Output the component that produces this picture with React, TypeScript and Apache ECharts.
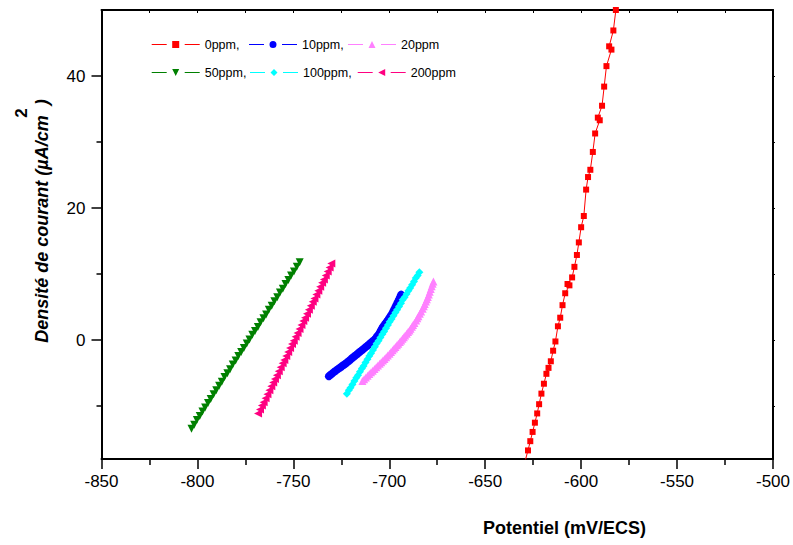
import React, { useEffect, useRef } from "react";
import * as echarts from "echarts";

const FONT = 'Arial, "Liberation Sans", sans-serif';

// Tick values
const xTickValues = [-850, -800, -750, -700, -650, -600, -550, -500];
const yMajorTicks = [0, 20, 40];
const yMinorTicks = [-10, 10, 30];
const yRightTicks = [-10, 0, 10, 20, 30, 40];

const seriesNames = ["0ppm", "10ppm", "20ppm", "50ppm", "100ppm", "200ppm"];
const seriesColors = ["#FF0000", "#0000FF", "#FF80FF", "#008000", "#00FFFF", "#FF0080"];

// 0 ppm
const pot0 = [-581.9, -583.2, -585.4, -584.2, -586.8, -588.0, -589.1, -591.3, -590.3, -592.7, -593.9, -595.2, -596.4, -597.4, -598.6, -600.0, -601.2, -602.2, -603.5, -604.7, -607.1, -606.1, -608.3, -609.7, -610.9, -612.1, -613.4, -614.6, -615.8, -617.0, -618.1, -619.4, -620.7, -621.9, -622.9, -624.1, -625.3, -626.5, -627.7, -629.0];
const cur0 = [50.0, 46.9, 44.5, 44.0, 41.5, 38.4, 35.5, 33.7, 33.3, 31.3, 28.5, 25.8, 24.7, 22.8, 18.8, 17.1, 14.8, 12.9, 11.1, 9.5, 8.5, 8.3, 7.1, 5.3, 3.4, 2.1, -0.2, -1.6, -3.2, -4.2, -5.1, -6.6, -8.1, -9.7, -11.1, -12.5, -13.9, -15.3, -16.7, -18.1];

// 10 ppm
const pot10 = [-731.5, -730.6, -729.6, -728.5, -727.5, -726.6, -725.6, -724.7, -723.8, -722.9, -721.9, -720.9, -719.9, -719.0, -718.0, -717.1, -716.2, -715.3, -714.4, -713.4, -712.4, -711.4, -710.5, -709.6, -708.7, -707.7, -707.0, -706.4, -705.7, -705.1, -704.5, -703.9, -703.4, -702.7, -702.1, -701.4, -700.8, -700.2, -699.6, -699.1, -698.5, -698.0, -697.5, -696.9, -696.4, -695.8, -695.2, -694.7, -694.2, -693.8];
const cur10 = [-5.46, -5.25, -5.02, -4.75, -4.54, -4.35, -4.14, -3.94, -3.76, -3.57, -3.34, -3.11, -2.85, -2.64, -2.40, -2.19, -1.98, -1.77, -1.55, -1.32, -1.08, -0.85, -0.62, -0.40, -0.17, 0.06, 0.30, 0.55, 0.80, 1.06, 1.38, 1.70, 1.97, 2.24, 2.48, 2.74, 2.99, 3.25, 3.52, 3.75, 4.00, 4.30, 4.60, 4.96, 5.27, 5.62, 5.96, 6.28, 6.60, 6.89];

// 20 ppm
const pot20 = [-714.0, -713.1, -712.2, -711.3, -710.4, -709.5, -708.6, -707.7, -706.8, -705.9, -705.0, -704.2, -703.3, -702.5, -701.6, -700.8, -699.9, -699.1, -698.3, -697.5, -696.8, -696.0, -695.3, -694.5, -693.8, -693.1, -692.4, -691.7, -690.9, -690.2, -689.5, -688.9, -688.2, -687.6, -686.9, -686.0, -685.4, -684.8, -684.1, -683.4, -682.6, -682.0, -681.5, -680.9, -680.4, -679.9, -679.4, -678.9, -678.4, -677.9, -677.4, -677.0];
const cur20 = [-6.20, -5.92, -5.65, -5.40, -5.14, -4.88, -4.62, -4.36, -4.10, -3.84, -3.57, -3.34, -3.08, -2.84, -2.58, -2.34, -2.07, -1.81, -1.54, -1.27, -1.04, -0.78, -0.55, -0.28, -0.05, 0.20, 0.44, 0.69, 0.97, 1.22, 1.47, 1.73, 2.04, 2.30, 2.60, 2.99, 3.30, 3.62, 3.98, 4.34, 4.76, 5.15, 5.48, 5.87, 6.20, 6.53, 6.93, 7.34, 7.75, 8.15, 8.56, 8.90];

// 50 ppm
const pot50 = [-803.1, -801.7, -800.3, -798.8, -797.4, -796.0, -794.5, -793.1, -791.6, -790.2, -788.7, -787.3, -785.9, -784.4, -783.0, -781.6, -780.1, -778.7, -777.2, -775.8, -774.3, -772.9, -771.4, -770.0, -768.5, -767.1, -765.6, -764.2, -762.8, -761.3, -759.9, -758.4, -757.0, -755.5, -754.1, -752.6, -751.2, -749.7, -748.2, -746.7];
const cur50 = [-13.4, -12.8, -12.1, -11.5, -10.8, -10.2, -9.5, -8.9, -8.2, -7.6, -6.9, -6.3, -5.6, -5.0, -4.4, -3.7, -3.1, -2.4, -1.8, -1.2, -0.5, 0.1, 0.8, 1.4, 2.0, 2.7, 3.3, 3.9, 4.6, 5.2, 5.9, 6.5, 7.2, 7.8, 8.5, 9.1, 9.8, 10.4, 11.1, 11.8];

// 100 ppm
const pot100 = [-722.1, -721.1, -720.2, -719.2, -718.2, -717.2, -716.3, -715.3, -714.3, -713.4, -712.4, -711.4, -710.4, -709.5, -708.5, -707.5, -706.6, -705.6, -704.6, -703.6, -702.7, -701.7, -700.7, -699.8, -698.8, -697.8, -696.8, -695.9, -694.9, -693.9, -693.0, -692.0, -691.0, -690.0, -689.1, -688.1, -687.1, -686.2, -685.2, -684.3];
const cur100 = [-8.1, -7.6, -7.2, -6.7, -6.2, -5.7, -5.3, -4.8, -4.3, -3.9, -3.4, -2.9, -2.4, -2.0, -1.5, -1.0, -0.5, -0.1, 0.4, 0.9, 1.3, 1.8, 2.3, 2.8, 3.2, 3.7, 4.2, 4.6, 5.1, 5.6, 6.1, 6.5, 7.0, 7.5, 7.9, 8.4, 8.9, 9.4, 9.8, 10.3];

// 200 ppm
const pot200 = [-768.4, -767.4, -766.4, -765.5, -764.5, -763.5, -762.5, -761.5, -760.5, -759.6, -758.6, -757.6, -756.6, -755.6, -754.7, -753.7, -752.7, -751.7, -750.7, -749.8, -748.8, -747.8, -746.8, -745.8, -744.8, -743.9, -742.9, -741.9, -740.9, -739.9, -739.0, -738.0, -737.0, -736.0, -735.0, -734.1, -733.1, -732.1, -731.1, -730.2];
const cur200 = [-11.1, -10.5, -9.9, -9.4, -8.8, -8.2, -7.6, -7.0, -6.4, -5.9, -5.3, -4.7, -4.1, -3.5, -3.0, -2.4, -1.8, -1.2, -0.6, -0.1, 0.5, 1.1, 1.7, 2.3, 2.9, 3.4, 4.0, 4.6, 5.2, 5.8, 6.3, 6.9, 7.5, 8.1, 8.7, 9.2, 9.8, 10.4, 11.0, 11.6];

const potentials = [pot0, pot10, pot20, pot50, pot100, pot200];
const currents = [cur0, cur10, cur20, cur50, cur100, cur200];

// marker symbols
const symbols = ["rect", "circle", "triangle", "triangle", "diamond", "triangle"];
const symbolRotations = [0, 0, 0, 180, 0, 90];
const symbolSizes = [6, 8, 8, 8, 8, 8];

// legend icons: dash - marker - dash (48 x 7 box)
const LINES = "M0,3 H15 V4 H0 Z M33,3 H48 V4 H33 Z ";
const legendIcons = [
  "path://" + LINES + "M20.5,0 H27.5 V7 H20.5 Z",
  "path://" + LINES + "M20.5,3.5 A3.5,3.5 0 1,0 27.5,3.5 A3.5,3.5 0 1,0 20.5,3.5 Z",
  "path://" + LINES + "M24,0 L27.5,7 L20.5,7 Z",
  "path://" + LINES + "M20.5,0 L27.5,0 L24,7 Z",
  "path://" + LINES + "M24,0 L27.5,3.5 L24,7 L20.5,3.5 Z",
  "path://" + LINES + "M20.5,3.5 L27.5,0 L27.5,7 Z",
];
const legendLefts = [151.7, 249, 348, 151.7, 250, 357.7];
const legendTops = [38, 38, 38, 66, 66, 66];

export default function App() {
  const ref = useRef<HTMLDivElement>(null);
  useEffect(() => {
    if (!ref.current) return;
    const chart = echarts.init(ref.current, null, { renderer: "svg" });
    const axisLine = { show: true, onZero: false, lineStyle: { color: "#000", width: 2 } };
    const series = seriesNames.map((name, i) => ({
      name,
      type: "line",
      data: potentials[i].map((x, k) => [x, currents[i][k]]),
      symbol: symbols[i],
      symbolRotate: symbolRotations[i],
      symbolSize: symbolSizes[i],
      showAllSymbol: true,
      color: seriesColors[i],
      itemStyle: { color: seriesColors[i], borderWidth: 0 },
      lineStyle: { color: seriesColors[i], width: 1 },
      clip: true,
      z: 2 + i,
    }));
    const legends = seriesNames.map((name, i) => ({
      data: [{ name, icon: legendIcons[i] }],
      left: legendLefts[i],
      top: legendTops[i],
      padding: 0,
      itemWidth: 48,
      itemHeight: 7,
      selectedMode: false,
      itemStyle: { borderWidth: 0 },
      formatter: (n: string) => (n === "20ppm" || n === "200ppm" ? n : n + ","),
      textStyle: { color: "#000", fontSize: 12.5, fontFamily: FONT },
    }));
    chart.setOption({
      animation: false,
      backgroundColor: "#fff",
      textStyle: { fontFamily: FONT },
      grid: { left: 101.5, right: 18.7, top: 10, bottom: 86, containLabel: false },
      legend: legends,
      xAxis: [
        {
          type: "value",
          min: xTickValues[0],
          max: xTickValues[xTickValues.length - 1],
          interval: 50,
          position: "bottom",
          axisLine,
          axisTick: { show: true, inside: false, length: 10, lineStyle: { color: "#000", width: 1.5 } },
          minorTick: { show: true, splitNumber: 2, length: 6, lineStyle: { color: "#000", width: 1.5 } },
          axisLabel: { color: "#000", fontSize: 17, margin: 14, fontFamily: FONT },
          splitLine: { show: false },
          minorSplitLine: { show: false },
        },
        {
          type: "value",
          min: -850,
          max: -500,
          interval: 25,
          position: "top",
          axisLine,
          axisTick: { show: true, inside: true, length: 3, lineStyle: { color: "#000", width: 1 } },
          axisLabel: { show: false },
          splitLine: { show: false },
        },
      ],
      yAxis: [
        {
          type: "value",
          min: -18,
          max: 50,
          position: "left",
          axisLine,
          axisTick: { show: true, inside: false, length: 10, customValues: yMajorTicks, lineStyle: { color: "#000", width: 1.5 } },
          axisLabel: { show: true, customValues: yMajorTicks, color: "#000", fontSize: 17, margin: 16, fontFamily: FONT },
          splitLine: { show: false },
        },
        {
          type: "value",
          min: -18,
          max: 50,
          position: "left",
          axisLine: { show: false, onZero: false },
          axisTick: { show: true, inside: false, length: 5, customValues: yMinorTicks, lineStyle: { color: "#000", width: 1.5 } },
          axisLabel: { show: false },
          splitLine: { show: false },
        },
        {
          type: "value",
          min: -18,
          max: 50,
          position: "right",
          axisLine,
          axisTick: { show: true, inside: false, length: 2, customValues: yRightTicks, lineStyle: { color: "#000", width: 1 } },
          axisLabel: { show: false },
          splitLine: { show: false },
        },
      ],
      graphic: [
        {
          type: "text",
          x: 483,
          y: 528,
          style: { text: "Potentiel (mV/ECS)", font: `bold 18px ${FONT}`, fill: "#000", align: "left", verticalAlign: "middle" },
        },
        {
          type: "text",
          x: 42,
          y: 221,
          rotation: Math.PI / 2,
          style: { text: "Densité de courant (µA/cm  )", font: `italic bold 18px ${FONT}`, fill: "#000", align: "center", verticalAlign: "middle" },
        },
        {
          type: "text",
          x: 21,
          y: 113,
          rotation: Math.PI / 2,
          style: { text: "2", font: `bold 17px ${FONT}`, fill: "#000", align: "center", verticalAlign: "middle" },
        },
      ],
      series,
    });
    return () => chart.dispose();
  }, []);
  return (
    <div
      ref={ref}
      style={{ position: "fixed", left: 0, top: 0, width: 793, height: 545, background: "#fff" }}
    />
  );
}
